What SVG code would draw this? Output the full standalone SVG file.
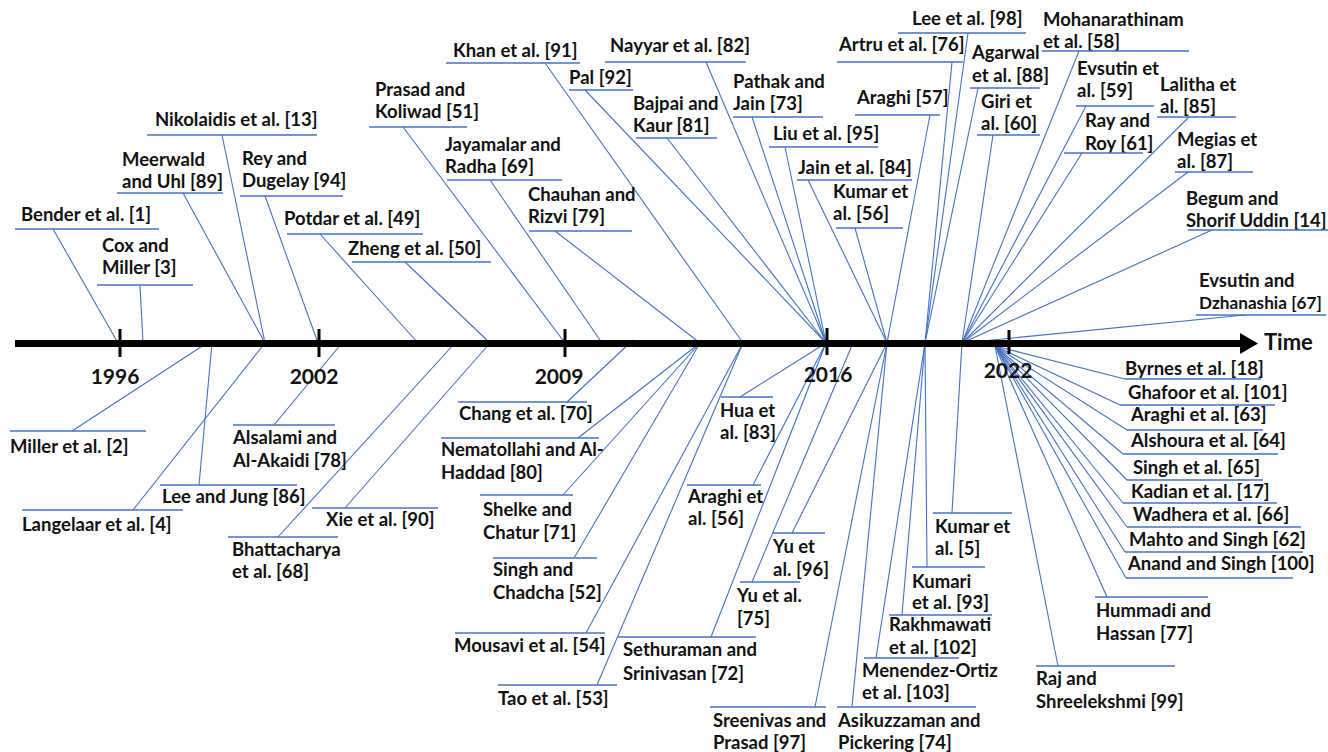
<svg xmlns="http://www.w3.org/2000/svg" width="1328" height="752" viewBox="0 0 1328 752">
<style>
.c{stroke:#4472C4;stroke-width:1.1;fill:none}
.u{stroke:#4472C4;stroke-width:1.3}
text{font-family:Lato,"Liberation Sans",sans-serif;font-weight:bold;font-size:18.5px;fill:#111}
.yr{font-size:21px;text-anchor:middle}
.tm{font-size:22px}
.sm{font-size:17.2px}
.tick{stroke:#000;stroke-width:3}
</style>
<rect width="1328" height="752" fill="#fff"/>
<g id="connectors">
<line class="c" x1="53" y1="229" x2="118" y2="343"/>
<line class="c" x1="140" y1="285" x2="143" y2="343"/>
<line class="c" x1="222" y1="135" x2="265" y2="343"/>
<line class="c" x1="183" y1="193" x2="265" y2="343"/>
<line class="c" x1="265" y1="196" x2="318" y2="343"/>
<line class="c" x1="320" y1="234" x2="418" y2="343"/>
<line class="c" x1="405" y1="262" x2="490" y2="343"/>
<line class="c" x1="403" y1="127" x2="565" y2="343"/>
<line class="c" x1="490" y1="180" x2="602" y2="343"/>
<line class="c" x1="555" y1="231" x2="700" y2="343"/>
<line class="c" x1="545" y1="63" x2="743" y2="343"/>
<line class="c" x1="585" y1="90" x2="826" y2="343"/>
<line class="c" x1="667" y1="138" x2="826" y2="343"/>
<line class="c" x1="706" y1="62" x2="826" y2="343"/>
<line class="c" x1="752" y1="117" x2="826" y2="343"/>
<line class="c" x1="785" y1="147" x2="826" y2="343"/>
<line class="c" x1="808" y1="180" x2="887" y2="343"/>
<line class="c" x1="855" y1="228" x2="887" y2="343"/>
<line class="c" x1="930" y1="115" x2="887" y2="343"/>
<line class="c" x1="952" y1="62" x2="925" y2="343"/>
<line class="c" x1="968" y1="33" x2="925" y2="343"/>
<line class="c" x1="978" y1="88" x2="925" y2="343"/>
<line class="c" x1="993" y1="135" x2="962" y2="343"/>
<line class="c" x1="1079" y1="51" x2="962" y2="343"/>
<line class="c" x1="1086" y1="106" x2="962" y2="343"/>
<line class="c" x1="1082" y1="153" x2="962" y2="343"/>
<line class="c" x1="1189" y1="117" x2="962" y2="343"/>
<line class="c" x1="1188" y1="172" x2="962" y2="343"/>
<line class="c" x1="1212" y1="230" x2="962" y2="343"/>
<line class="c" x1="1245" y1="315" x2="962" y2="343"/>
<line class="c" x1="72" y1="431" x2="207" y2="343"/>
<line class="c" x1="133" y1="510" x2="265" y2="343"/>
<line class="c" x1="199" y1="485" x2="212" y2="343"/>
<line class="c" x1="274" y1="425" x2="342" y2="343"/>
<line class="c" x1="278" y1="537" x2="455" y2="343"/>
<line class="c" x1="345" y1="508" x2="490" y2="343"/>
<line class="c" x1="567" y1="402" x2="633" y2="340"/>
<line class="c" x1="578" y1="438" x2="700" y2="343"/>
<line class="c" x1="563" y1="495" x2="700" y2="343"/>
<line class="c" x1="574" y1="558" x2="700" y2="343"/>
<line class="c" x1="586" y1="633" x2="743" y2="343"/>
<line class="c" x1="597" y1="685" x2="743" y2="343"/>
<line class="c" x1="711" y1="637" x2="826" y2="343"/>
<line class="c" x1="740" y1="397" x2="826" y2="343"/>
<line class="c" x1="753" y1="485" x2="826" y2="343"/>
<line class="c" x1="792" y1="533" x2="887" y2="343"/>
<line class="c" x1="752" y1="582" x2="853" y2="343"/>
<line class="c" x1="815" y1="707" x2="887" y2="343"/>
<line class="c" x1="852" y1="707" x2="887" y2="343"/>
<line class="c" x1="876" y1="658" x2="925" y2="343"/>
<line class="c" x1="902" y1="615" x2="925" y2="343"/>
<line class="c" x1="927" y1="567" x2="925" y2="343"/>
<line class="c" x1="952" y1="513" x2="962" y2="343"/>
<line class="c" x1="995" y1="346" x2="1125" y2="379"/>
<line class="c" x1="995" y1="346" x2="1120" y2="405"/>
<line class="c" x1="995" y1="346" x2="1127" y2="430"/>
<line class="c" x1="995" y1="346" x2="1123" y2="454"/>
<line class="c" x1="995" y1="346" x2="1127" y2="480"/>
<line class="c" x1="995" y1="346" x2="1123" y2="503"/>
<line class="c" x1="995" y1="346" x2="1127" y2="527"/>
<line class="c" x1="995" y1="346" x2="1125" y2="552"/>
<line class="c" x1="995" y1="346" x2="1126" y2="578"/>
<line class="c" x1="995" y1="346" x2="1107" y2="597"/>
<line class="c" x1="995" y1="346" x2="1058" y2="666"/>
</g>
<g id="axis">
<line x1="15" y1="343.5" x2="1242" y2="343.5" stroke="#000" stroke-width="7"/>
<polygon points="1240,333 1258,343.5 1240,354" fill="#000"/>
<line class="tick" x1="120" y1="329" x2="120" y2="357"/>
<line class="tick" x1="319" y1="329" x2="319" y2="357"/>
<line class="tick" x1="565" y1="329" x2="565" y2="357"/>
<line class="tick" x1="827" y1="328" x2="827" y2="355"/>
<line class="tick" x1="1009" y1="330" x2="1009" y2="354"/>
<text class="yr" x="115" y="384">1996</text>
<text class="yr" x="314" y="384">2002</text>
<text class="yr" x="559" y="384">2009</text>
<text class="yr" x="828" y="382">2016</text>
<text class="yr" x="1008" y="378">2022</text>
<text class="tm" x="1264" y="350">Time</text>
</g>
<g id="n1"><text x="21" y="221">Bender et al. [1]</text><line class="u" x1="15" y1="229" x2="159" y2="229"/></g>
<g id="n2"><text x="102" y="252">Cox and<tspan x="102" y="274">Miller [3]</tspan></text><line class="u" x1="97" y1="285" x2="193" y2="285"/></g>
<g id="n3"><text x="155" y="126">Nikolaidis et al. [13]</text><line class="u" x1="147" y1="135" x2="317" y2="135"/></g>
<g id="n4"><text x="122" y="166">Meerwald<tspan x="122" y="188">and Uhl [89]</tspan></text><line class="u" x1="117" y1="193" x2="223" y2="193"/></g>
<g id="n5"><text x="242" y="165">Rey and<tspan x="242" y="187">Dugelay [94]</tspan></text><line class="u" x1="240" y1="196" x2="343" y2="196"/></g>
<g id="n6"><text x="284" y="225">Potdar et al. [49]</text><line class="u" x1="287" y1="234" x2="423" y2="234"/></g>
<g id="n7"><text x="348" y="255">Zheng et al. [50]</text><line class="u" x1="352" y1="262" x2="491" y2="262"/></g>
<g id="n8"><text x="375" y="96">Prasad and<tspan x="375" y="118">Koliwad [51]</tspan></text><line class="u" x1="369" y1="127" x2="467" y2="127"/></g>
<g id="n9"><text x="445" y="151">Jayamalar and<tspan x="445" y="173">Radha [69]</tspan></text><line class="u" x1="447" y1="180" x2="562" y2="180"/></g>
<g id="n10"><text x="528" y="201">Chauhan and<tspan x="528" y="223">Rizvi [79]</tspan></text><line class="u" x1="529" y1="231" x2="632" y2="231"/></g>
<g id="n11"><text x="453" y="57">Khan et al. [91]</text><line class="u" x1="446" y1="63" x2="580" y2="63"/></g>
<g id="n12"><text x="569" y="84">Pal [92]</text><line class="u" x1="569" y1="90" x2="633" y2="90"/></g>
<g id="n13"><text x="633" y="110">Bajpai and<tspan x="633" y="132">Kaur [81]</tspan></text><line class="u" x1="636" y1="138" x2="717" y2="138"/></g>
<g id="n14"><text x="610" y="52">Nayyar et al. [82]</text><line class="u" x1="605" y1="62" x2="746" y2="62"/></g>
<g id="n15"><text x="733" y="88">Pathak and<tspan x="733" y="110">Jain [73]</tspan></text><line class="u" x1="733" y1="117" x2="823" y2="117"/></g>
<g id="n16"><text x="773" y="140">Liu et al. [95]</text><line class="u" x1="769" y1="147" x2="878" y2="147"/></g>
<g id="n17"><text x="798" y="174">Jain et al. [84]</text><line class="u" x1="797" y1="180" x2="912" y2="180"/></g>
<g id="n18"><text x="833" y="198">Kumar et<tspan x="833" y="220">al. [56]</tspan></text><line class="u" x1="836" y1="228" x2="903" y2="228"/></g>
<g id="n19"><text x="857" y="104">Araghi [57]</text><line class="u" x1="855" y1="115" x2="940" y2="115"/></g>
<g id="n20"><text x="839" y="51">Artru et al. [76]</text><line class="u" x1="837" y1="62" x2="963" y2="62"/></g>
<g id="n21"><text x="912" y="25">Lee et al. [98]</text><line class="u" x1="898" y1="33" x2="1026" y2="33"/></g>
<g id="n22"><text x="972" y="59">Agarwal<tspan x="972" y="82">et al. [88]</tspan></text><line class="u" x1="970" y1="88" x2="1040" y2="88"/></g>
<g id="n23"><text x="981" y="108">Giri et<tspan x="981" y="130">al. [60]</tspan></text><line class="u" x1="977" y1="135" x2="1040" y2="135"/></g>
<g id="n24"><text x="1043" y="26">Mohanarathinam<tspan x="1043" y="48">et al. [58]</tspan></text><line class="u" x1="1042" y1="51" x2="1189" y2="51"/></g>
<g id="n25"><text x="1077" y="75">Evsutin et<tspan x="1077" y="97">al. [59]</tspan></text><line class="u" x1="1076" y1="106" x2="1154" y2="106"/></g>
<g id="n26"><text x="1160" y="91">Lalitha et<tspan x="1160" y="113">al. [85]</tspan></text><line class="u" x1="1157" y1="117" x2="1236" y2="117"/></g>
<g id="n27"><text x="1085" y="127">Ray and<tspan x="1085" y="150">Roy [61]</tspan></text><line class="u" x1="1064" y1="153" x2="1143" y2="153"/></g>
<g id="n28"><text x="1177" y="146">Megias et<tspan x="1177" y="168">al. [87]</tspan></text><line class="u" x1="1175" y1="172" x2="1253" y2="172"/></g>
<g id="n29"><text x="1186" y="205">Begum and<tspan x="1186" y="227">Shorif Uddin [14]</tspan></text><line class="u" x1="1188" y1="230" x2="1328" y2="230"/></g>
<g id="n30"><text x="1199" y="287">Evsutin and</text><text class="sm" x="1199" y="309">Dzhanashia [67]</text><line class="u" x1="1196" y1="315" x2="1326" y2="315"/></g>
<g id="n31"><text x="10" y="453">Miller et al. [2]</text><line class="u" x1="10" y1="431" x2="146" y2="431"/></g>
<g id="n32"><text x="22" y="531">Langelaar et al. [4]</text><line class="u" x1="22" y1="510" x2="183" y2="510"/></g>
<g id="n33"><text x="162" y="503">Lee and Jung [86]</text><line class="u" x1="160" y1="485" x2="297" y2="485"/></g>
<g id="n34"><text x="233" y="444">Alsalami and<tspan x="233" y="467">Al-Akaidi [78]</tspan></text><line class="u" x1="233" y1="425" x2="335" y2="425"/></g>
<g id="n35"><text x="232" y="556">Bhattacharya<tspan x="232" y="578">et al. [68]</tspan></text><line class="u" x1="228" y1="537" x2="338" y2="537"/></g>
<g id="n36"><text x="326" y="526">Xie et al. [90]</text><line class="u" x1="312" y1="508" x2="438" y2="508"/></g>
<g id="n37"><text x="459" y="420">Chang et al. [70]</text><line class="u" x1="458" y1="402" x2="587" y2="402"/></g>
<g id="n38"><text x="441" y="456">Nematollahi and Al-<tspan x="441" y="479">Haddad [80]</tspan></text><line class="u" x1="441" y1="438" x2="599" y2="438"/></g>
<g id="n39"><text x="483" y="516">Shelke and<tspan x="483" y="539">Chatur [71]</tspan></text><line class="u" x1="480" y1="495" x2="573" y2="495"/></g>
<g id="n40"><text x="493" y="576">Singh and<tspan x="493" y="599">Chadcha [52]</tspan></text><line class="u" x1="493" y1="558" x2="597" y2="558"/></g>
<g id="n41"><text x="454" y="652">Mousavi et al. [54]</text><line class="u" x1="455" y1="633" x2="605" y2="633"/></g>
<g id="n42"><text x="498" y="705">Tao et al. [53]</text><line class="u" x1="498" y1="685" x2="617" y2="685"/></g>
<g id="n43"><text x="623" y="656">Sethuraman and<tspan x="623" y="680">Srinivasan [72]</tspan></text><line class="u" x1="618" y1="637" x2="756" y2="637"/></g>
<g id="n44"><text x="720" y="417">Hua et<tspan x="720" y="439">al. [83]</tspan></text><line class="u" x1="721" y1="397" x2="773" y2="397"/></g>
<g id="n45"><text x="688" y="503">Araghi et<tspan x="688" y="525">al. [56]</tspan></text><line class="u" x1="687" y1="485" x2="761" y2="485"/></g>
<g id="n46"><text x="773" y="553">Yu et<tspan x="773" y="576">al. [96]</tspan></text><line class="u" x1="773" y1="533" x2="825" y2="533"/></g>
<g id="n47"><text x="737" y="602">Yu et al.<tspan x="737" y="625">[75]</tspan></text><line class="u" x1="740" y1="582" x2="800" y2="582"/></g>
<g id="n48"><text x="713" y="727">Sreenivas and<tspan x="713" y="749">Prasad [97]</tspan></text><line class="u" x1="710" y1="707" x2="826" y2="707"/></g>
<g id="n49"><text x="838" y="727">Asikuzzaman and<tspan x="838" y="749">Pickering [74]</tspan></text><line class="u" x1="837" y1="707" x2="976" y2="707"/></g>
<g id="n50"><text x="862" y="677">Menendez-Ortiz<tspan x="862" y="699">et al. [103]</tspan></text><line class="u" x1="864" y1="658" x2="959" y2="658"/></g>
<g id="n51"><text x="889" y="631">Rakhmawati<tspan x="889" y="654">et al. [102]</tspan></text><line class="u" x1="889" y1="615" x2="992" y2="615"/></g>
<g id="n52"><text x="912" y="588">Kumari<tspan x="912" y="609">et al. [93]</tspan></text><line class="u" x1="912" y1="567" x2="985" y2="567"/></g>
<g id="n53"><text x="935" y="533">Kumar et<tspan x="935" y="555">al. [5]</tspan></text><line class="u" x1="933" y1="513" x2="1012" y2="513"/></g>
<g id="n54"><text x="1125" y="375">Byrnes et al. [18]</text><line class="u" x1="1125" y1="379" x2="1261" y2="379"/></g>
<g id="n55"><text x="1128" y="399">Ghafoor et al. [101]</text><line class="u" x1="1120" y1="405" x2="1275" y2="405"/></g>
<g id="n56"><text x="1131" y="421">Araghi et al. [63]</text><line class="u" x1="1127" y1="430" x2="1263" y2="430"/></g>
<g id="n57"><text x="1131" y="447">Alshoura et al. [64]</text><line class="u" x1="1123" y1="454" x2="1278" y2="454"/></g>
<g id="n58"><text x="1133" y="474">Singh et al. [65]</text><line class="u" x1="1127" y1="480" x2="1263" y2="480"/></g>
<g id="n59"><text x="1131" y="498">Kadian et al. [17]</text><line class="u" x1="1123" y1="503" x2="1277" y2="503"/></g>
<g id="n60"><text x="1133" y="521">Wadhera et al. [66]</text><line class="u" x1="1127" y1="527" x2="1301" y2="527"/></g>
<g id="n61"><text x="1129" y="546">Mahto and Singh [62]</text><line class="u" x1="1125" y1="552" x2="1303" y2="552"/></g>
<g id="n62"><text x="1128" y="570">Anand and Singh [100]</text><line class="u" x1="1126" y1="578" x2="1293" y2="578"/></g>
<g id="n63"><text x="1096" y="617">Hummadi and<tspan x="1096" y="640">Hassan [77]</tspan></text><line class="u" x1="1095" y1="597" x2="1208" y2="597"/></g>
<g id="n64"><text x="1036" y="685">Raj and<tspan x="1036" y="708">Shreelekshmi [99]</tspan></text><line class="u" x1="1036" y1="666" x2="1175" y2="666"/></g>
</svg>
